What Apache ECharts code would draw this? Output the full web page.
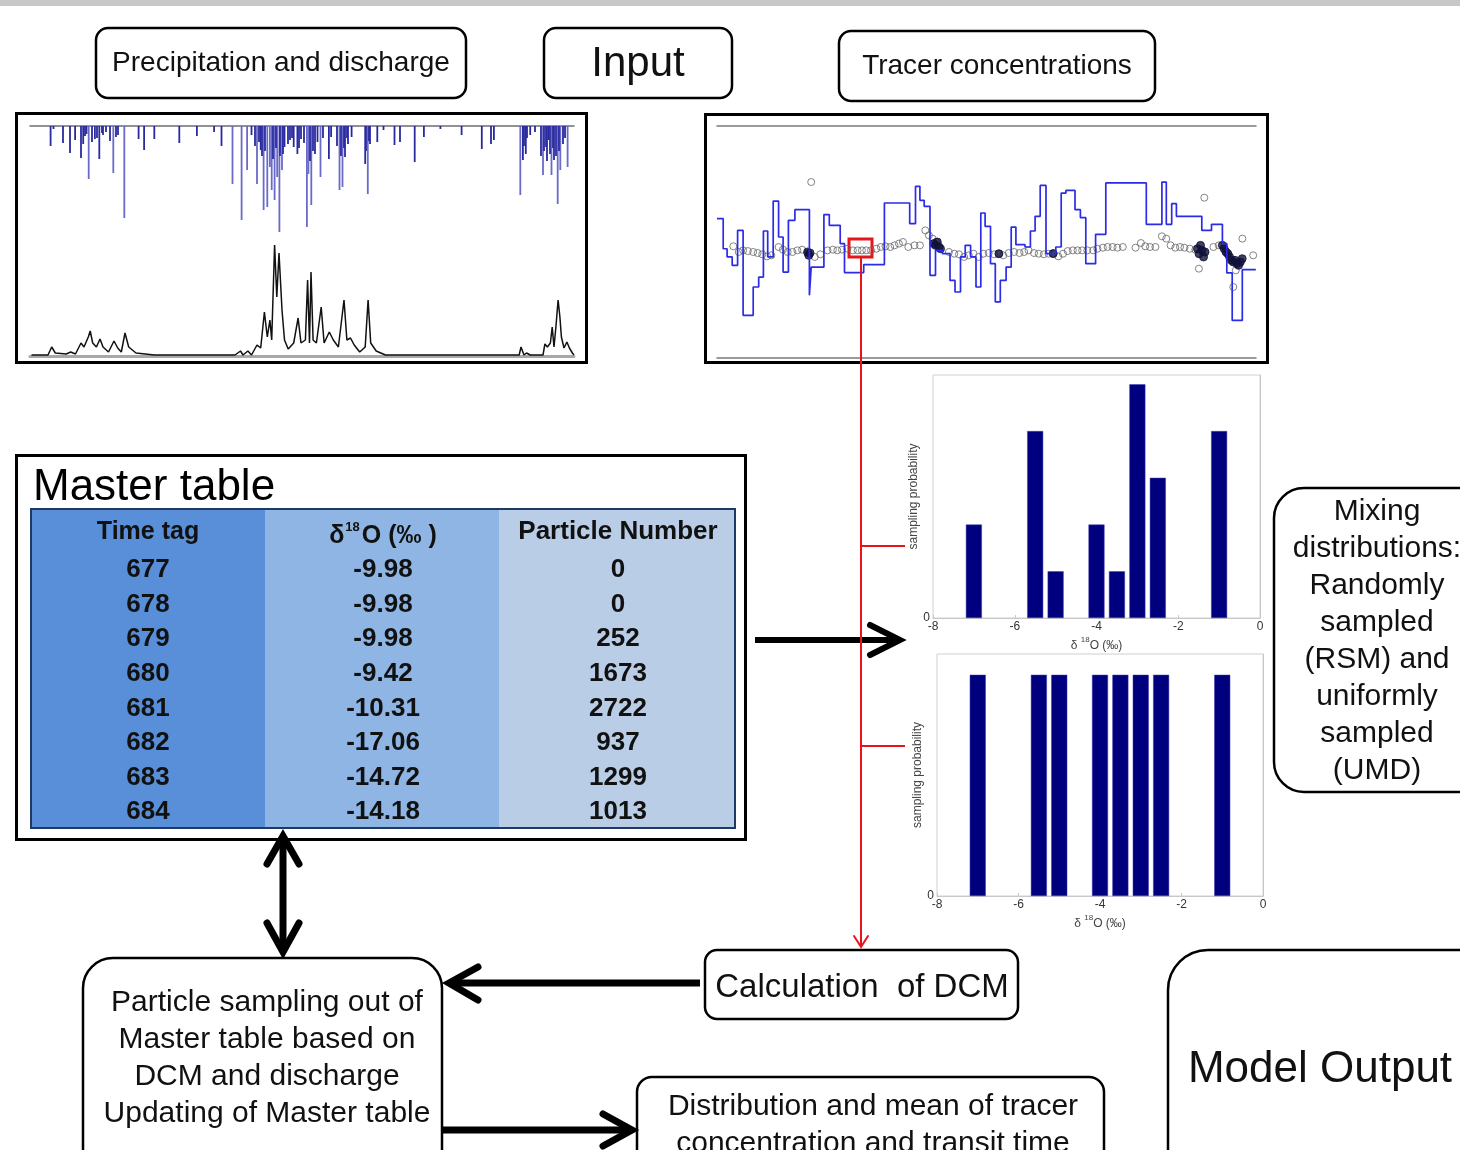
<!DOCTYPE html>
<html><head><meta charset="utf-8">
<script src="https://cdn.jsdelivr.net/npm/echarts@6/dist/echarts.min.js"></script>
<style>html,body{margin:0;padding:0;background:#fff}#c{width:1460px;height:1150px}</style>
</head><body><div id="c"></div>
<script>
// ---------- DATA ----------
// precipitation: [day, depth]
const precipitation = [[20.6,20],[23.5,3],[33,17],[40,27],[45.1,14],[51,32],[53.2,18],[58.7,53],[62,16],[64.9,13],[69.3,33],[73,9],[76,6],[83.3,47],[94.3,92],[108.6,13],[114.1,24],[124.3,13],[149.3,17],[166.9,10],[184.1,6],[191.5,20],[202.5,58],[211.6,94],[217.1,44],[221.5,9],[227,58],[230.7,24],[233.6,84],[237.3,81],[239.9,41],[241.7,64],[244.6,74],[247.2,51],[249.4,106],[252,44],[254.5,21],[260,14],[263.7,21],[267.4,28],[271,13],[276.9,101],[278.4,48],[281.3,79],[285,28],[287.5,16],[290.5,51],[298.9,33],[301.1,11],[309.5,64],[312.5,61],[315,31],[318,18],[321.6,11],[335.2,38],[337.8,68],[340,18],[347.3,16],[353.5,4],[364.5,19],[370,16],[384.7,36],[393.9,11],[410.4,3],[431.6,9],[451.8,23],[461,18],[463.9,14],[490.3,69],[492.9,34],[495.8,28],[500.2,9],[505,6],[513,49],[516,21],[518.6,14],[521.5,49],[524,34],[527.7,78],[530.3,44],[537.6,41],
[55,10],[56.5,8],[67,12],[72,7],[80,15],[86,11],[88,9],[225,20],[229,16],[232,30],[235,25],[243,33],[246,22],[250,30],[253,28],[258,18],[262,12],[269,22],[274,17],[280,35],[283,25],[293,12],[307,20],[311,30],[314,22],[317,12],[336,25],[339,15],[494,20],[497,12],[511,30],[514,25],[517,35],[520,28],[523,22],[526,30],[529,25],[533,18],[535,12]];
// discharge: [day, flow]
const discharge = [[1.5,1],[18,1],[21.7,9],[25.3,3],[36.3,2],[40.7,4],[45.5,2],[51,13],[54,9],[58.3,19],[60.2,25],[62.7,13],[66.4,9],[70,17],[73,9],[78.5,4],[84,15],[87.7,8],[91.3,4],[95,23],[98.7,9],[106,3],[124.3,1],[205,1],[210.5,5],[213,1],[217.9,5],[221.5,1],[227,11],[230.7,8],[234.4,44],[237.3,19],[239.9,36],[241.7,16],[244.6,111],[246.8,59],[249,103],[252,46],[254.5,16],[258.2,7],[263.7,13],[268.1,38],[271,13],[275.4,16],[277.6,76],[279.5,13],[281,84],[283.1,16],[286.4,13],[291.2,49],[294.1,13],[299.3,24],[303.3,16],[308.4,9],[314,56],[316.9,16],[320.5,18],[324.2,11],[329.7,4],[335.2,9],[338.1,56],[340.7,13],[346.2,5],[355.4,1],[373.7,1],[489.2,1],[491,9],[494,1],[496.5,3],[500.2,1],[513,1],[514.9,12],[517.4,9],[520.4,13],[522.2,29],[524,9],[525.9,29],[528.1,56],[529.9,39],[531.4,19],[534,8],[536.9,14],[539.4,8],[542.4,3],[544,1]];
// tracer input (step series)
const tracerTime = [0,6.2,10.1,15.2,20.6,26.1,36.2,41.7,46.4,50.7,56.2,61.6,66.1,71.4,77.9,92.4,94.2,106.9,112.3,123.2,127.5,146.7,167.4,192.7,198.5,202.9,207.2,213,218.5,225.4,233,238,243.5,248.2,253.6,259,263.8,268.1,273.5,278.3,283.3,289.1,294.2,298.9,308,313.4,318.1,323.2,329,338.8,344.2,348.9,358,363.4,368.8,378.6,388.8,429.3,444.9,449.3,454.7,459.4,484.8,494.5,505.4,509.8,515.2,525.3,538.8];
const tracerD18O = [-7.99,-10.58,-11.29,-12.01,-9.00,-16.32,-13.88,-13.02,-9.05,-11.29,-6.47,-9.57,-12.59,-8.13,-7.21,-14.60,-12.16,-7.64,-8.56,-10.14,-12.64,-11.95,-6.64,-8.42,-5.20,-6.41,-6.93,-12.87,-10.72,-11.01,-13.31,-14.31,-11.29,-10.29,-11.29,-13.88,-7.50,-8.65,-11.87,-15.17,-13.31,-12.16,-8.71,-10.23,-10.43,-9.05,-7.79,-5.12,-11.01,-10.43,-5.78,-5.55,-7.21,-7.90,-11.87,-9.34,-4.91,-8.48,-4.83,-8.48,-6.70,-7.79,-9.00,-8.48,-10.14,-12.67,-16.76,-12.39,-12.39];
// stream samples (open circles) [day, d18O]
const streamSamples = [[16.3,-10.37],[21.7,-10.86],[26.1,-10.72],[30.8,-10.78],[36.2,-10.86],[40.6,-10.95],[45.3,-11.06],[50.0,-11.24],[54.3,-11.15],[61.6,-10.43],[65.9,-10.66],[70.6,-10.86],[75.4,-10.86],[80.4,-10.72],[85.1,-10.66],[90.6,-11.01],[97.8,-11.29],[103.3,-11.06],[110.5,-10.72],[115.9,-10.66],[120.3,-10.72],[125,-10.66],[130.4,-10.58],[135.9,-10.72],[140.6,-10.72],[144.9,-10.72],[149.3,-10.72],[154,-10.72],[159.4,-10.58],[163.8,-10.43],[168.5,-10.37],[173.2,-10.43],[177.5,-10.29],[181.9,-10.14],[185.9,-10.00],[191.3,-10.43],[197.5,-10.29],[202.9,-10.29],[208.3,-9.00],[211.9,-9.43],[215.6,-9.71],[219.2,-10.00],[231.9,-10.86],[237.3,-11.01],[242,-11.06],[247.1,-11.29],[251.8,-11.15],[256.5,-11.01],[261.6,-11.29],[266.3,-11.01],[271.7,-10.95],[277.2,-11.06],[281.9,-11.01],[286.2,-11.15],[291.7,-10.95],[297.1,-10.86],[302.5,-10.95],[307.2,-10.86],[311.6,-10.72],[317,-10.95],[321.7,-11.01],[326.8,-11.06],[331.5,-11.01],[336.2,-11.01],[341.3,-11.24],[346,-11.01],[350.7,-10.78],[355.8,-10.72],[360.5,-10.72],[365.2,-10.72],[370.3,-10.72],[376.1,-10.72],[380.4,-10.58],[385.9,-10.49],[390.6,-10.43],[395.6,-10.43],[400.4,-10.49],[405.8,-10.43],[418.5,-10.49],[423.9,-10.09],[428.3,-10.37],[433,-10.43],[438.4,-10.43],[444.9,-9.51],[449.3,-9.71],[453.6,-10.29],[458.3,-10.49],[463,-10.43],[467.4,-10.49],[472.8,-10.58],[478.3,-10.66],[481.9,-12.30],[487.3,-6.18],[496.4,-10.43],[501.8,-10.29],[516.3,-13.88],[518.8,-12.44],[525.4,-9.71],[536.2,-11.15],[94.2,-4.83]];
const denseSamples = [[90.6,-10.86],[91.8,-11.15],[93,-10.95],[216.8,-10.14],[218.5,-10.29],[220.3,-10.0],[222,-10.43],[223.5,-10.58],[281.9,-11.01],[336.2,-11.0],[480.5,-10.58],[482,-11.01],[483.5,-10.29],[485,-10.72],[486.5,-11.29],[488,-10.86],[505.4,-10.29],[507.2,-10.58],[509,-10.86],[510.8,-11.01],[512.6,-11.29],[514.4,-11.58],[516.2,-11.72],[518,-11.58],[519.8,-11.86],[521.6,-12.01],[523.4,-11.72],[525.2,-11.44]];
const selectedWindow = [[132,-9.74],[155,-11.29]];
// mixing distributions
const binCenters = [-7,-5.5,-5,-4,-3.5,-3,-2.5,-1];
const rsmWeights = [2,4,1,2,1,5,3,4];
const umdWeights = [1,1,1,1,1,1,1,1];
// master table
const tableHeaders = ['Time tag','δ18O (‰ )','Particle Number'];
const timeTags = ['677','678','679','680','681','682','683','684'];
const d18OValues = ['-9.98','-9.98','-9.98','-9.42','-10.31','-17.06','-14.72','-14.18'];
const particleNumbers = ['0','0','252','1673','2722','937','1299','1013'];
// labels
const mixingLines = ['Mixing','distributions:','Randomly','sampled','(RSM) and','uniformly','sampled','(UMD)'];
const particleLines = ['Particle sampling out of','Master table based on','DCM and discharge','Updating of Master table'];
const distLines = ['Distribution and mean of tracer','concentration and transit time'];

// ---------- HELPERS ----------
const FONT = '"Liberation Sans", Arial, sans-serif';
const g = [];
function box(x,y,w,h,r,lw){ g.push({type:'rect',z:50,shape:{x:x,y:y,width:w,height:h,r:r},style:{fill:null,stroke:'#000',lineWidth:lw}}); }
function txt(t,x,y,size,opts){ opts=opts||{}; g.push({type:'text',z:60,x:x,y:y,style:Object.assign({text:t,font:(opts.weight||'normal')+' '+size+'px '+FONT,fill:opts.fill||'#111',align:opts.align||'center',verticalAlign:'middle',textAlign:opts.align||'center',textVerticalAlign:'middle'},opts.extra||{})}); }
function line(x1,y1,x2,y2,c,lw){ g.push({type:'line',z:55,shape:{x1:x1,y1:y1,x2:x2,y2:y2},style:{stroke:c,lineWidth:lw,lineCap:'butt'}}); }
function chevron(pts,c,lw){ g.push({type:'polyline',z:56,shape:{points:pts},style:{stroke:c,lineWidth:lw,fill:null,lineCap:'round',lineJoin:'miter'}}); }

// top band
g.push({type:'rect',z:40,shape:{x:0,y:0,width:1460,height:6},style:{fill:'#c8c8c8'}});
// header boxes
box(96,28,370,70,12,2.5); txt('Precipitation and discharge',281,63,28);
box(544,28,188,70,12,2.5); txt('Input',638,64,42);
box(839,31,316,70,12,2.5); txt('Tracer concentrations',997,66,28);
// chart panels
g.push({type:'rect',z:50,shape:{x:16.5,y:113.5,width:570,height:249},style:{fill:null,stroke:'#000',lineWidth:3}});
g.push({type:'rect',z:50,shape:{x:705.5,y:114.5,width:562,height:248},style:{fill:null,stroke:'#000',lineWidth:3}});
// master table
g.push({type:'rect',z:50,shape:{x:16.5,y:455.5,width:729,height:384},style:{fill:null,stroke:'#000',lineWidth:3}});
txt('Master table',33,488,44,{align:'left',fill:'#000'});
const colX = [31,265,499,735];
const colFill = ['#588fd8','#8eb5e3','#b9cde6'];
for(let c=0;c<3;c++){ g.push({type:'rect',z:45,shape:{x:colX[c],y:509,width:colX[c+1]-colX[c],height:319},style:{fill:colFill[c]}}); }
g.push({type:'rect',z:46,shape:{x:31,y:509,width:704,height:319},style:{fill:null,stroke:'#1c3a63',lineWidth:2}});
const colC = [148,383,618];
const rowY = [570,605,639,674,709,743,778,812];
txt(tableHeaders[0],colC[0],532,25,{weight:'bold'});
g.push({type:'text',z:60,x:colC[1],y:534,style:{text:'{a|δ}{s|18}{a|O (‰ )}',font:'bold 25px '+FONT,fill:'#111',align:'center',verticalAlign:'middle',textAlign:'center',textVerticalAlign:'middle',rich:{a:{font:'bold 25px '+FONT,fill:'#111',lineHeight:30,verticalAlign:'bottom'},s:{font:'bold 13px '+FONT,fill:'#111',lineHeight:30,verticalAlign:'top',padding:[2,2,0,1]}}}});
txt(tableHeaders[2],colC[2],532,26,{weight:'bold'});
for(let i=0;i<timeTags.length;i++){
  txt(timeTags[i],colC[0],rowY[i],26,{weight:'bold'});
  txt(d18OValues[i],colC[1],rowY[i],26,{weight:'bold'});
  txt(particleNumbers[i],colC[2],rowY[i],26,{weight:'bold'});
}
// mixing box
box(1274,488,220,304,30,2.5);
mixingLines.forEach((t,i)=>txt(t,1377,512+i*37,30));
// DCM
box(705,950,313,69,12,2.5); txt('Calculation  of DCM',862,988,33);
// particle sampling
box(83,958,359,240,30,2.5);
particleLines.forEach((t,i)=>txt(t,267,1003+i*37,30));
// distribution
box(637,1077,467,120,15,2.5);
distLines.forEach((t,i)=>txt(t,873,1107+i*37,30));
// model output
box(1168,950,340,260,40,2.5); txt('Model Output',1320,1070,44);
// black arrows
line(755,640,897,640,'#000',6); chevron([[870,625],[900,640],[870,655]],'#000',6);
line(283,840,283,950,'#000',7); chevron([[267,864],[283,836],[299,864]],'#000',7); chevron([[267,923],[283,952],[299,923]],'#000',7);
line(700,983,452,983,'#000',7); chevron([[478,967],[449,983],[478,1000]],'#000',7);
line(443,1130,630,1130,'#000',7); chevron([[603,1114],[632,1130],[603,1146]],'#000',7);
// red connector
line(861,258,861,946,'#e8141b',2);
line(861,546,905,546,'#e8141b',2);
line(861,746,905,746,'#e8141b',2);
chevron([[854,936],[861,947],[868,936]],'#e8141b',2);

// ---------- CHART ----------
const chart = echarts.init(document.getElementById('c'), null, {renderer:'canvas'});
const hiddenY = {show:false};
const d18Name = '{d|δ }{s|18}{d|O (‰)}';
const nameRich = {d:{fontSize:12,color:'#444',fontFamily:FONT,lineHeight:16,verticalAlign:'bottom'},s:{fontSize:8,color:'#444',fontFamily:FONT,lineHeight:16,verticalAlign:'top'}};
function barX(gi){ return {gridIndex:gi,type:'value',min:-8,max:0,interval:2,position:'bottom',
  axisLine:{show:true,lineStyle:{color:'#c8c8c8',width:1}},axisTick:{show:true,inside:true,length:3,lineStyle:{color:'#c8c8c8'}},
  axisLabel:{fontSize:12,color:'#333',margin:3,fontFamily:FONT},splitLine:{show:false},
  name:d18Name,nameLocation:'middle',nameGap:18,nameTextStyle:{rich:nameRich}}; }
function barY(gi,max){ return {gridIndex:gi,type:'value',min:0,max:max,interval:max,
  axisLine:{show:true,lineStyle:{color:'#c8c8c8'}},axisTick:{show:false},
  axisLabel:{fontSize:12,color:'#333',margin:3,fontFamily:FONT,formatter:v=>v===0?'0':''},splitLine:{show:false},
  name:'sampling probability',nameLocation:'middle',nameGap:12,nameRotate:90,nameTextStyle:{fontSize:12,color:'#444',fontFamily:FONT}}; }

const option = {
  animation:false,
  backgroundColor:'#fff',
  grid:[
    {left:30,top:126,width:544,height:230},
    {left:717,top:126,width:539,height:232},
    {left:933,top:375,width:327,height:243,show:true,borderColor:'#d0d0d0',borderWidth:1},
    {left:937,top:654,width:326,height:242,show:true,borderColor:'#d0d0d0',borderWidth:1}
  ],
  xAxis:[
    {gridIndex:0,type:'value',min:0,max:544,position:'top',axisLine:{lineStyle:{color:'#6d6d6d',width:1.5}},axisTick:{show:false},axisLabel:{show:false},splitLine:{show:false}},
    {gridIndex:0,type:'value',min:0,max:544,position:'bottom',axisLine:{lineStyle:{color:'#a8a8a8',width:3}},axisTick:{show:false},axisLabel:{show:false},splitLine:{show:false}},
    {gridIndex:1,type:'value',min:0,max:539,position:'top',axisLine:{lineStyle:{color:'#7a7a7a',width:1.5}},axisTick:{show:false},axisLabel:{show:false},splitLine:{show:false}},
    {gridIndex:1,type:'value',min:0,max:539,position:'bottom',axisLine:{lineStyle:{color:'#7a7a7a',width:1.5}},axisTick:{show:false},axisLabel:{show:false},splitLine:{show:false}},
    barX(2), barX(3)
  ],
  yAxis:[
    Object.assign({gridIndex:0,type:'value',min:0,max:230,inverse:true},hiddenY),
    Object.assign({gridIndex:0,type:'value',min:0,max:230},hiddenY),
    Object.assign({gridIndex:1,type:'value',min:-20,max:0},hiddenY),
    barY(2,5.2), barY(3,1.094)
  ],
  series:[
    {type:'bar',xAxisIndex:0,yAxisIndex:0,data:precipitation,barWidth:1.8,silent:true,
      itemStyle:{color:p=>p.value[1]>40?'#6a6ac8':'#2a2aa0'}},
    {type:'line',xAxisIndex:1,yAxisIndex:1,data:discharge,symbol:'none',silent:true,
      lineStyle:{color:'#111',width:1.5}},
    {type:'line',xAxisIndex:2,yAxisIndex:2,data:tracerTime.map((t,i)=>[t,tracerD18O[i]]),step:'end',symbol:'none',silent:true,
      lineStyle:{color:'#2b2be8',width:1.7},
      markArea:{silent:true,itemStyle:{color:'rgba(0,0,0,0)',borderColor:'#e8141b',borderWidth:3},data:[[{coord:selectedWindow[0]},{coord:selectedWindow[1]}]]}},
    {type:'scatter',xAxisIndex:2,yAxisIndex:2,data:streamSamples,symbol:'circle',symbolSize:7,silent:true,
      itemStyle:{color:'rgba(255,255,255,0)',borderColor:'#666',borderWidth:1}},
    {type:'scatter',xAxisIndex:2,yAxisIndex:2,data:denseSamples,symbol:'circle',symbolSize:8,silent:true,
      itemStyle:{color:'#10103a',borderColor:'#10103a',borderWidth:1}},
    {type:'bar',xAxisIndex:4,yAxisIndex:3,data:binCenters.map((b,i)=>[b,rsmWeights[i]]),barWidth:16,silent:true,
      itemStyle:{color:'#00007e',borderColor:'#3a3ab0',borderWidth:0.5}},
    {type:'bar',xAxisIndex:5,yAxisIndex:4,data:binCenters.map((b,i)=>[b,umdWeights[i]]),barWidth:16,silent:true,
      itemStyle:{color:'#00007e',borderColor:'#3a3ab0',borderWidth:0.5}}
  ],
  graphic:{elements:g}
};
chart.setOption(option);
</script></body></html>
